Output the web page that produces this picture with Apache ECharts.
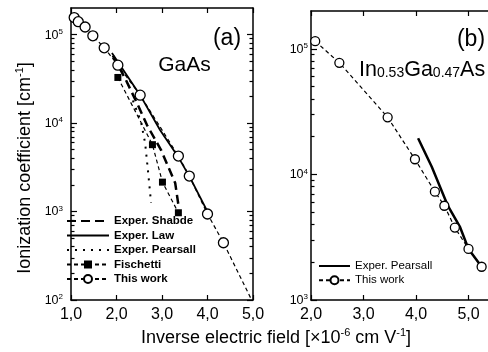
<!DOCTYPE html>
<html><head><meta charset="utf-8">
<script src="https://cdn.jsdelivr.net/npm/echarts@6/dist/echarts.min.js"></script>
<style>html,body{margin:0;padding:0;background:#fff}#c{width:488px;height:352px}</style>
</head><body><div id="c"></div>
<script>
// ---------- Panel (a): GaAs ----------
const aThisX = [1.07, 1.16, 1.31, 1.48, 1.73, 2.03, 2.52, 3.36, 3.60, 4.00, 4.35, 4.95];
const aThisY = [156000, 140000, 122000, 97000, 71000, 45200, 20700, 4240, 2520, 938, 444, 105];
const aThisMarked = [1, 1, 1, 1, 1, 1, 1, 1, 1, 1, 1, 0];
const aLawX = [1.90, 2.52, 2.96, 3.35, 3.62, 4.00];
const aLawY = [62000, 20700, 8300, 4200, 2400, 1000];
const aShabdeX = [1.92, 2.19, 2.47, 2.67, 2.98, 3.29, 3.37];
const aShabdeY = [58000, 32000, 16000, 9500, 4950, 2100, 1100];
const aPearsallX = [2.36, 2.54, 2.63, 2.69, 2.76];
const aPearsallY = [18000, 10300, 5900, 2950, 1250];
const aFischettiX = [2.03, 2.79, 3.01, 3.36];
const aFischettiY = [32800, 5700, 2150, 969];
// ---------- Panel (b): In0.53Ga0.47As ----------
const bThisX = [2.08, 2.54, 3.46, 3.98, 4.36, 4.54, 4.74, 5.00, 5.25];
const bThisY = [115000, 77400, 28500, 13200, 7280, 5630, 3770, 2550, 1840];
const bPearsallX = [4.04, 4.30, 4.60, 4.84, 5.00, 5.25];
const bPearsallY = [19400, 11500, 5700, 3800, 2550, 1840];
// ---------- axes ----------
const aXRange = [1, 5];
const bXRange = [2, 6];
const aYRange = [100, 200000];
const bYRange = [1000, 200000];
const aYMajor = [100, 1000, 10000, 100000];
const bYMajor = [1000, 10000, 100000];
const legendA = ['Exper. Shabde', 'Exper. Law', 'Exper. Pearsall', 'Fischetti', 'This work'];
const legendB = ['Exper. Pearsall ', 'This work '];
const noMarker = ['Exper. Shabde', 'Exper. Law', 'Exper. Pearsall', 'Exper. Pearsall '];

const F = "'Liberation Sans', Arial, Helvetica, sans-serif";
function minorsFor(majors, max) {
  const out = [];
  majors.forEach(m => { for (let k = 2; k <= 9; k++) { const v = m * k; if (v < max) out.push(v); } });
  return out;
}
function pts(xs, ys) { return xs.map((x, i) => [x, ys[i]]); }
function legendData(names) {
  return names.map(n => noMarker.indexOf(n) >= 0 ? { name: n, itemStyle: { opacity: 0 } } : { name: n });
}
const lineAx = { show: true, lineStyle: { color: '#000', width: 1.5 } };
const hiddenLine = { show: true, lineStyle: { color: 'rgba(0,0,0,0)', width: 0 } };

function xAxes(gi, r) {
  const base = { type: 'value', gridIndex: gi, min: r[0], max: r[1], interval: 1,
    axisLine: lineAx, splitLine: { show: false },
    axisTick: { show: true, inside: true, length: 5, lineStyle: { color: '#000', width: 1.2 } } };
  return [
    Object.assign({}, base, { position: 'bottom',
      axisLabel: { margin: 7, fontSize: 16, color: '#000', fontFamily: F,
        formatter: v => v.toFixed(1).replace('.', ',') } }),
    Object.assign({}, base, { position: 'top', axisLabel: { show: false } })
  ];
}
function yAxes(gi, r, majors, margin) {
  const minors = minorsFor(majors, r[1]);
  const base = { type: 'log', logBase: 10, gridIndex: gi, min: r[0], max: r[1], splitLine: { show: false } };
  const tickStyle = { color: '#000', width: 1.2 };
  return [
    Object.assign({}, base, { position: 'left', axisLine: lineAx,
      axisTick: { show: true, inside: true, length: 6, customValues: majors, lineStyle: tickStyle },
      axisLabel: { show: true, customValues: majors, margin: margin, color: '#000', fontFamily: F,
        formatter: v => '{b|10}{s|' + Math.round(Math.log10(v)) + '}',
        rich: { b: { fontSize: 12.5, lineHeight: 14, fontFamily: F, color: '#000', verticalAlign: 'bottom' },
                s: { fontSize: 8, lineHeight: 8, fontFamily: F, color: '#000', verticalAlign: 'top' } } } }),
    Object.assign({}, base, { position: 'left', axisLine: hiddenLine,
      axisTick: { show: true, inside: true, length: 3.5, customValues: minors, lineStyle: tickStyle },
      axisLabel: { show: true, customValues: minors, formatter: () => '' } }),
    Object.assign({}, base, { position: 'right', axisLine: lineAx,
      axisTick: { show: true, inside: true, length: 6, customValues: majors, lineStyle: tickStyle },
      axisLabel: { show: true, customValues: majors, formatter: () => '' } }),
    Object.assign({}, base, { position: 'right', axisLine: hiddenLine,
      axisTick: { show: true, inside: true, length: 3.5, customValues: minors, lineStyle: tickStyle },
      axisLabel: { show: true, customValues: minors, formatter: () => '' } })
  ];
}

const circleStyle = { color: '#fff', borderColor: '#000', borderWidth: 1.3 };
const aThisData = pts(aThisX, aThisY).map((p, i) => aThisMarked[i] ? p : { value: p, symbol: 'none' });

const chart = echarts.init(document.getElementById('c'), null, { renderer: 'canvas' });
chart.setOption({
  animation: false,
  backgroundColor: '#fff',
  grid: [
    { left: 71, top: 8, width: 182, height: 292, outerBoundsMode: 'none', containLabel: false },
    { left: 311, top: 11, width: 210, height: 289, outerBoundsMode: 'none', containLabel: false }
  ],
  xAxis: [].concat(xAxes(0, aXRange), xAxes(1, bXRange)),
  yAxis: [].concat(yAxes(0, aYRange, aYMajor, 8), yAxes(1, bYRange, bYMajor, 3)),
  legend: [
    { orient: 'vertical', left: 66, top: 215, padding: 0, itemWidth: 42, itemHeight: 10, itemGap: 2.5,
      selectedMode: false, data: legendData(legendA),
      textStyle: { fontSize: 11.5, fontWeight: 'bold', color: '#000', fontFamily: F, lineHeight: 12 } },
    { orient: 'vertical', left: 318, top: 260, padding: 0, itemWidth: 31, itemHeight: 10, itemGap: 2.3,
      selectedMode: false, data: legendData(legendB),
      textStyle: { fontSize: 11.5, color: '#000', fontFamily: F, lineHeight: 12 } }
  ],
  series: [
    { name: 'Exper. Shabde', type: 'line', xAxisIndex: 0, yAxisIndex: 0, data: pts(aShabdeX, aShabdeY),
      symbol: 'none', itemStyle: { color: '#000' }, lineStyle: { color: '#000', width: 2.5, type: [9, 5] } },
    { name: 'Exper. Law', type: 'line', xAxisIndex: 0, yAxisIndex: 0, data: pts(aLawX, aLawY),
      symbol: 'none', itemStyle: { color: '#000' }, lineStyle: { color: '#000', width: 1.8 } },
    { name: 'Exper. Pearsall', type: 'line', xAxisIndex: 0, yAxisIndex: 0, data: pts(aPearsallX, aPearsallY),
      symbol: 'none', itemStyle: { color: '#000' }, lineStyle: { color: '#000', width: 2, type: [2, 6] } },
    { name: 'Fischetti', type: 'line', xAxisIndex: 0, yAxisIndex: 0, data: pts(aFischettiX, aFischettiY),
      symbol: 'rect', symbolSize: 7, itemStyle: { color: '#000' }, lineStyle: { color: '#000', width: 1.2, type: [4, 3] } },
    { name: 'This work', type: 'line', xAxisIndex: 0, yAxisIndex: 0, data: aThisData,
      symbol: 'circle', symbolSize: 10, itemStyle: circleStyle, lineStyle: { color: '#000', width: 1.2, type: [4, 3] } },
    { name: 'Exper. Pearsall ', type: 'line', xAxisIndex: 2, yAxisIndex: 4, data: pts(bPearsallX, bPearsallY),
      symbol: 'none', itemStyle: { color: '#000' }, lineStyle: { color: '#000', width: 2.5 } },
    { name: 'This work ', type: 'line', xAxisIndex: 2, yAxisIndex: 4, data: pts(bThisX, bThisY),
      symbol: 'circle', symbolSize: 9, itemStyle: circleStyle, lineStyle: { color: '#000', width: 1.2, type: [4, 3] } }
  ],
  graphic: [
    { type: 'text', x: 24, y: 168, rotation: Math.PI / 2,
      style: { text: '{b|Ionization coefficient [cm}{s|-1}{b|]}', textAlign: 'center', textVerticalAlign: 'middle',
        rich: { b: { fontSize: 18, lineHeight: 20, fontFamily: F, fill: '#000', verticalAlign: 'bottom' },
                s: { fontSize: 11, lineHeight: 11, fontFamily: F, fill: '#000', verticalAlign: 'top' } } } },
    { type: 'text', x: 276, y: 337,
      style: { text: '{b|Inverse electric field [×10}{s|-6}{b| cm V}{s|-1}{b|]}', textAlign: 'center', textVerticalAlign: 'middle',
        rich: { b: { fontSize: 18, lineHeight: 20, fontFamily: F, fill: '#000', verticalAlign: 'bottom' },
                s: { fontSize: 11, lineHeight: 11, fontFamily: F, fill: '#000', verticalAlign: 'top' } } } },
    { type: 'text', x: 227, y: 39, style: { text: '(a)', font: '23px ' + F, fill: '#000', textAlign: 'center', textVerticalAlign: 'middle' } },
    { type: 'text', x: 184.5, y: 65, style: { text: 'GaAs', font: '21px ' + F, fill: '#000', textAlign: 'center', textVerticalAlign: 'middle' } },
    { type: 'text', x: 471, y: 40, style: { text: '(b)', font: '23px ' + F, fill: '#000', textAlign: 'center', textVerticalAlign: 'middle' } },
    { type: 'text', x: 359, y: 59,
      style: { text: '{b|In}{s|0.53}{b|Ga}{s|0.47}{b|As}', textAlign: 'left', textVerticalAlign: 'top',
        rich: { b: { fontSize: 21.5, lineHeight: 21, fontFamily: F, fill: '#000', verticalAlign: 'top' },
                s: { fontSize: 14, lineHeight: 14, padding: [17, 0, 0, 0], fontFamily: F, fill: '#000', verticalAlign: 'bottom' } } } }
  ]
});
</script>
</body></html>
